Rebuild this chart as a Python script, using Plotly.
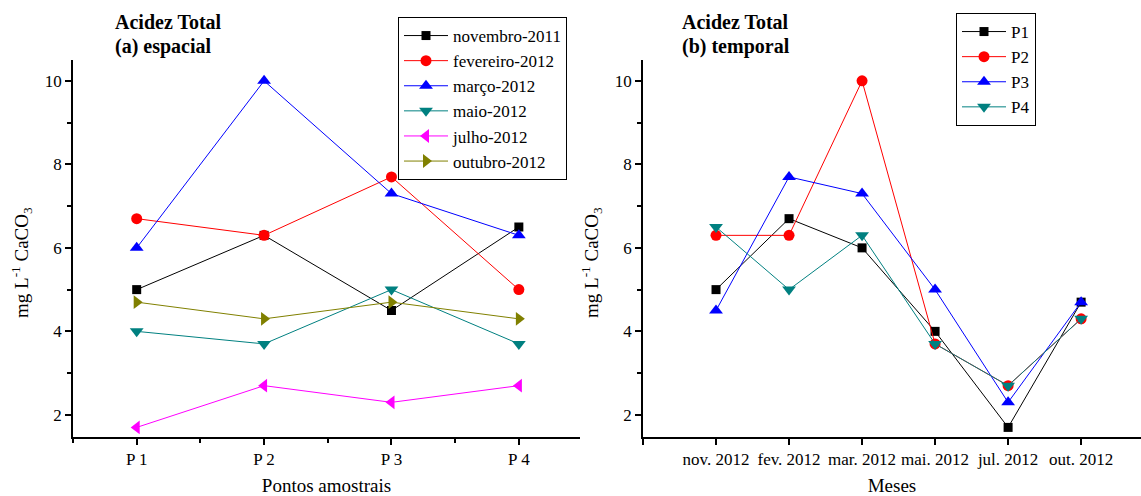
import plotly.graph_objects as go

# ---- data ----
pontos = ["P 1", "P 2", "P 3", "P 4"]
meses = ["nov. 2012", "fev. 2012", "mar. 2012", "mai. 2012", "jul. 2012", "out. 2012"]

novembro_2011 = [5.0, 6.3, 4.5, 6.5]
fevereiro_2012 = [6.7, 6.3, 7.7, 5.0]
marco_2012 = [6.0, 10.0, 7.3, 6.3]
maio_2012 = [4.0, 3.7, 5.0, 3.7]
julho_2012 = [1.7, 2.7, 2.3, 2.7]
outubro_2012 = [4.7, 4.3, 4.7, 4.3]

P1 = [5.0, 6.7, 6.0, 4.0, 1.7, 4.7]
P2 = [6.3, 6.3, 10.0, 3.7, 2.7, 4.3]
P3 = [4.5, 7.7, 7.3, 5.0, 2.3, 4.7]
P4 = [6.5, 5.0, 6.3, 3.7, 2.7, 4.3]

FONT = "Liberation Serif, Times New Roman, serif"
W, H = 1141, 496

fig = go.Figure()

xa = list(range(1, len(pontos) + 1))
xb = list(range(1, len(meses) + 1))

left_series = [
    ("novembro-2011", novembro_2011, "#000000", "square", 9),
    ("fevereiro-2012", fevereiro_2012, "#FF0000", "circle", 11),
    ("março-2012", marco_2012, "#0000FF", "triangle-up", 12),
    ("maio-2012", maio_2012, "#008080", "triangle-down", 12),
    ("julho-2012", julho_2012, "#FF00FF", "triangle-left", 12),
    ("outubro-2012", outubro_2012, "#808000", "triangle-right", 12),
]
for name, vals, col, sym, sz in left_series:
    fig.add_trace(go.Scatter(
        x=xa, y=vals, name=name, mode="lines+markers",
        line=dict(color=col, width=1),
        marker=dict(color=col, symbol=sym, size=sz, line=dict(width=0)),
        xaxis="x", yaxis="y", legend="legend"))

right_series = [
    ("P1", P1, "#000000", "square", 9),
    ("P2", P2, "#FF0000", "circle", 11),
    ("P3", P3, "#0000FF", "triangle-up", 12),
    ("P4", P4, "#008080", "triangle-down", 12),
]
for name, vals, col, sym, sz in right_series:
    fig.add_trace(go.Scatter(
        x=xb, y=vals, name=name, mode="lines+markers",
        line=dict(color=col, width=1),
        marker=dict(color=col, symbol=sym, size=sz, line=dict(width=0)),
        xaxis="x2", yaxis="y2", legend="legend2"))

tickfont = dict(family=FONT, size=17, color="black")
ydom = [1 - 437 / H, 1 - 60 / H]
yaxis_common = dict(
    range=[1.47, 10.5], domain=ydom, showline=True, linecolor="black", linewidth=1.5,
    showgrid=False, zeroline=False, ticks="outside", ticklen=6, tickwidth=1.5,
    tickcolor="black", tickvals=[2, 4, 6, 8, 10], tickfont=tickfont,
    minor=dict(tickvals=[3, 5, 7, 9], ticks="outside", ticklen=4, tickwidth=1.5,
               tickcolor="black", showgrid=False),
    automargin=False,
)
xaxis_common = dict(
    showline=True, linecolor="black", linewidth=1.5, showgrid=False, zeroline=False,
    ticks="outside", ticklen=6, tickwidth=1.5, tickcolor="black", tickfont=tickfont,
    tickangle=0, automargin=False,
)

legend_common = dict(xanchor="left", yanchor="top",
                     bordercolor="black", borderwidth=1, bgcolor="white",
                     font=dict(family=FONT, size=17, color="black"),
                     tracegroupgap=0, itemsizing="trace", itemwidth=44)

fig.update_layout(
    width=W, height=H,
    margin=dict(l=0, r=0, t=0, b=0),
    paper_bgcolor="white", plot_bgcolor="white",
    font=dict(family=FONT, size=19, color="black"),
    xaxis=dict(xaxis_common, domain=[73 / W, 580 / W], range=[0.5, 4.48],
               tickvals=xa, ticktext=pontos,
               minor=dict(tickvals=[0.5, 1.5, 2.5, 3.5], ticks="outside", ticklen=4,
                          tickwidth=1.5, tickcolor="black", showgrid=False),
               title=dict(text="Pontos amostrais",
                          font=dict(family=FONT, size=19, color="black"), standoff=16),
               anchor="y"),
    yaxis=dict(yaxis_common, anchor="x"),
    xaxis2=dict(xaxis_common, domain=[643 / W, 1.0], range=[0, 6.82],
                tickvals=xb, ticktext=meses,
                minor=dict(tickvals=[0], ticks="outside", ticklen=6,
                           tickwidth=1.5, tickcolor="black", showgrid=False),
                title=dict(text="Meses",
                           font=dict(family=FONT, size=19, color="black"), standoff=16),
                anchor="y2"),
    yaxis2=dict(yaxis_common, anchor="x2"),
    legend=dict(legend_common, x=398 / W, y=1 - 17 / H),
    legend2=dict(legend_common, x=956 / W, y=1 - 13 / H),
    showlegend=True,
)

for xx, sub in [(113, "(a) espacial"), (680, "(b) temporal")]:
    fig.add_annotation(x=xx / W, y=1 - 22 / H, xref="paper", yref="paper",
                       xanchor="left", yanchor="middle", showarrow=False,
                       text="<b>Acidez Total</b>",
                       font=dict(family=FONT, size=20, color="black"))
    fig.add_annotation(x=xx / W, y=1 - 47 / H, xref="paper", yref="paper",
                       xanchor="left", yanchor="middle", showarrow=False,
                       text="<b>" + sub + "</b>",
                       font=dict(family=FONT, size=20, color="black"))

for xx in (21, 591):
    fig.add_annotation(x=xx / W, y=1 - 263 / H, xref="paper", yref="paper",
                       xanchor="center", yanchor="middle", showarrow=False,
                       textangle=-90,
                       text="mg L<sup>-1</sup> CaCO<sub>3</sub>",
                       font=dict(family=FONT, size=19, color="black"))

fig.write_html("out.html")
